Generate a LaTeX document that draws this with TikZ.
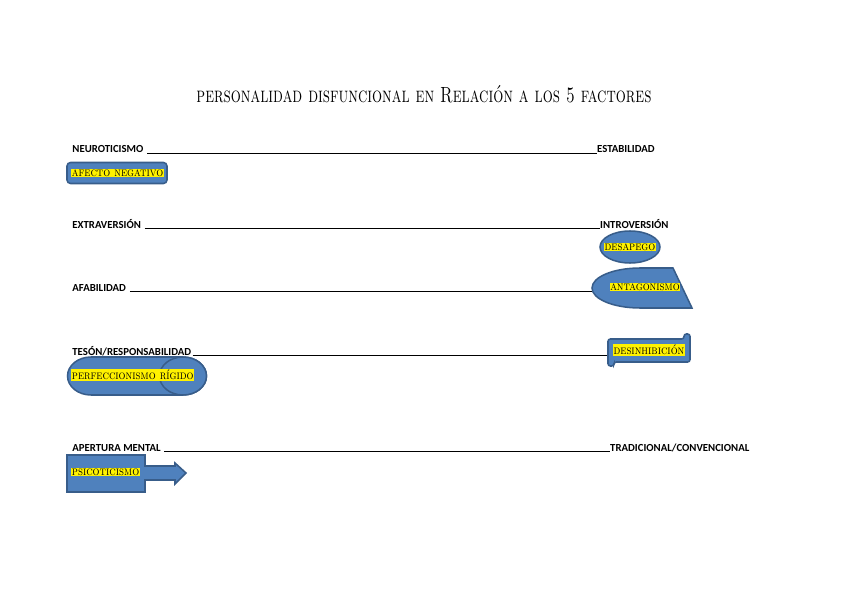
\documentclass[tikz,border=0pt]{standalone}
\usepackage{fontspec}
\setsansfont{Carlito}
\usepackage{xcolor}
\definecolor{offblue}{HTML}{4F81BD}
\definecolor{offedge}{HTML}{385D8A}
\usetikzlibrary{positioning,shapes.geometric}
\newcommand\hlt[1]{{\setlength{\fboxsep}{0.6pt}\colorbox{yellow}{\rmfamily\mdseries\scshape\fontsize{9.3}{10}\selectfont\addfontfeature{FakeBold=2}\scalebox{1}[1.15]{#1}}}}

\begin{document}
\begin{tikzpicture}[x=0.3mm,y=0.3mm,
every node/.style={font=\sffamily\bfseries\fontsize{9.2}{11}\selectfont},
rowlbl/.style={anchor=base west,inner sep=1pt},
endlbl/.style={anchor=base west,inner sep=0pt},
rule/.style={draw=black,line width=0.5pt},
blob/.style={draw=offedge,line width=1.3pt,fill=offblue},
tag/.style={inner sep=0pt}
]
\useasboundingbox (0,0) rectangle (848,-599);

\node[font=\rmfamily\mdseries\scshape\fontsize{15}{17}\selectfont] (title) at (424,-94) {\scalebox{0.9}[1.25]{personalidad disfuncional en Relación a los 5 factores}};

% neuroticismo
\node[rowlbl] (neuro) at (71,-153) {NEUROTICISMO};
\node[endlbl] (estab) at (597,-153) {ESTABILIDAD};
\draw[rule] ([xshift=2pt]neuro.base east) -- (estab.base west);
\node[blob,rounded corners=3pt,minimum width=30mm,minimum height=6.3mm] (afecto) at (117,-173) {};
\node[tag,anchor=west] (afectolbl) at (71,-173) {\hlt{afecto negativo}};

% extraversion
\node[rowlbl] (extra) at (71,-228) {EXTRAVERSIÓN};
\node[endlbl] (intro) at (600,-228) {INTROVERSIÓN};
\draw[rule] ([xshift=2pt]extra.base east) -- (intro.base west);
\draw[blob] (630,-247) ellipse[x radius=30,y radius=16];
\node[tag] (desapego) at (630,-247) {\hlt{desapego}};

% afabilidad
\node[rowlbl] (afab) at (71,-291) {AFABILIDAD};
\coordinate (afabend) at (605,-291);
\draw[rule] ([xshift=2pt]afab.base east) -- (afabend);
\draw[blob] (673,-268) -- (692,-308) -- (640,-308) arc[start angle=-90,end angle=-270,x radius=48,y radius=20] -- cycle;
\node[tag] (antag) at (645,-287) {\hlt{antagonismo}};

% teson
\node[rowlbl] (teson) at (71,-355) {TESÓN/RESPONSABILIDAD};
\coordinate (tesonend) at (610,-355);
\draw[rule] (teson.base east) -- (tesonend);
\draw[blob] (91,-357) -- (183,-357) arc[start angle=90,end angle=-90,x radius=23.5,y radius=19] -- (91,-395) arc[start angle=270,end angle=90,x radius=23.5,y radius=19] -- cycle;
\draw[blob] (183,-376) ellipse[x radius=23.5,y radius=19];
\node[tag,anchor=west] (perfec) at (71,-375) {\hlt{perfeccionismo rígido}};
\draw[blob,rounded corners=2pt] (614,-339) -- (684,-339) -- (684,-334) -- (690,-334) -- (690,-362) -- (614,-362) -- (614,-366) -- (608,-366) -- (608,-339) -- cycle;
\node[tag] (desinh) at (649,-350) {\hlt{desinhibición}};

% apertura
\node[rowlbl] (apert) at (71,-451) {APERTURA MENTAL};
\node[endlbl] (tradic) at (610,-451) {TRADICIONAL/CONVENCIONAL};
\draw[rule] ([xshift=2pt]apert.base east) -- (tradic.base west);
\draw[blob] (67,-455) -- (145,-455) -- (145,-466) -- (175,-466) -- (175,-463) -- (186,-473) -- (175,-484) -- (175,-480) -- (145,-480) -- (145,-492) -- (67,-492) -- cycle;
\node[tag,anchor=west] (psico) at (71,-472) {\hlt{psicoticismo}};
\end{tikzpicture}
\end{document}
